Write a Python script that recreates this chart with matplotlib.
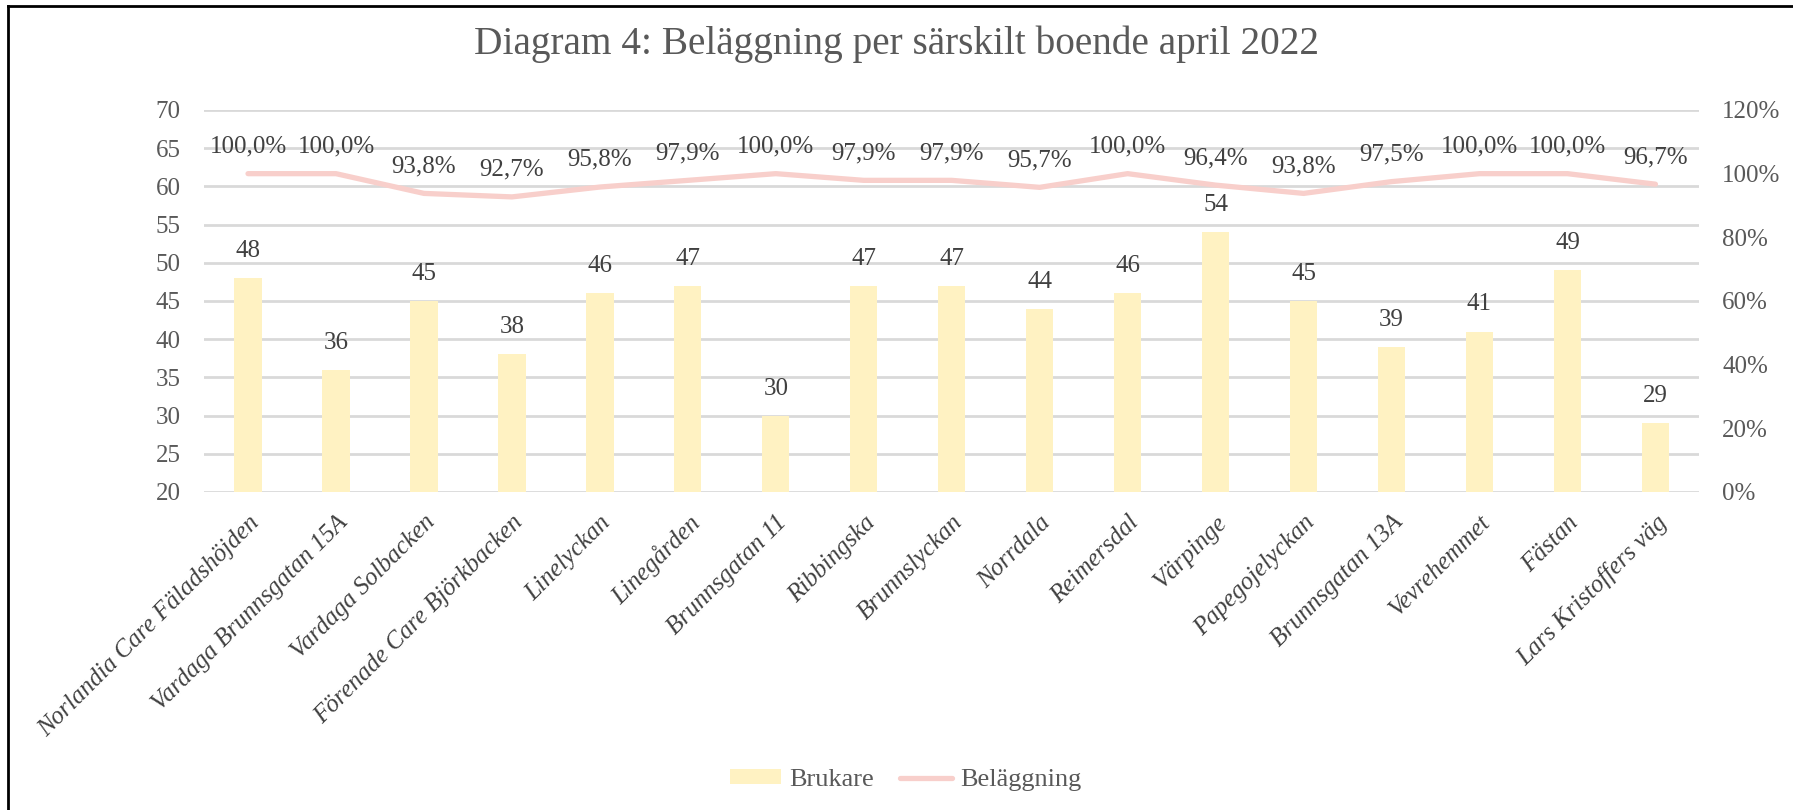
import numpy as np
import matplotlib.pyplot as plt
from matplotlib.patches import Patch
from matplotlib.lines import Line2D

plt.rcParams['font.family'] = ['Liberation Serif', 'DejaVu Serif']

# data
boenden = [
    "Norlandia Care Fäladshöjden", "Vardaga Brunnsgatan 15A", "Vardaga Solbacken",
    "Förenade Care Björkbacken", "Linelyckan", "Linegården", "Brunnsgatan 11",
    "Ribbingska", "Brunnslyckan", "Norrdala", "Reimersdal", "Värpinge",
    "Papegojelyckan", "Brunnsgatan 13A", "Vevrehemmet", "Fästan", "Lars Kristoffers väg",
]
brukare = [48, 36, 45, 38, 46, 47, 30, 47, 47, 44, 46, 54, 45, 39, 41, 49, 29]
belaggning = [100.0, 100.0, 93.8, 92.7, 95.8, 97.9, 100.0, 97.9, 97.9, 95.7,
              100.0, 96.4, 93.8, 97.5, 100.0, 100.0, 96.7]

left_ticks = list(range(20, 71, 5))
right_ticks = [0, 0.2, 0.4, 0.6, 0.8, 1.0, 1.2]

BAR_COL = "#FFF2C2"
LINE_COL = "#F8CFCB"
TXT = "#404040"
GRID = "#D9D9D9"

fig = plt.figure(figsize=(17.93, 8.10), dpi=100)
ax = fig.add_axes([0.1138, 0.3926, 0.834, 0.4716])
ax2 = ax.twinx()

x = np.arange(len(boenden))
ax.bar(x, brukare, width=0.31, color=BAR_COL, zorder=2)
ax.set_ylim(20, 70)
ax.set_xlim(-0.5, len(boenden) - 0.5)
ax.set_yticks(left_ticks)
ax.yaxis.grid(True, color=GRID, linewidth=2, zorder=0)
ax.set_axisbelow(True)

for xi, v in zip(x, brukare):
    ax.annotate(str(v), (xi, v), xytext=(0, 19.5), textcoords='offset points',
                ha='center', va='center', fontsize=18, color=TXT)

fr = [b / 100 for b in belaggning]
ax2.plot(x, fr, color=LINE_COL, linewidth=3.8, solid_capstyle='round', zorder=3)
ax2.set_ylim(0, 1.2)
ax2.set_yticks(right_ticks)
ax2.set_yticklabels([f"{int(round(t * 100))}%" for t in right_ticks])
for xi, v in zip(x, belaggning):
    ax2.annotate(f"{v:.1f}%".replace('.', ','), (xi, v / 100), xytext=(0, 19.5),
                 textcoords='offset points', ha='center', va='center',
                 fontsize=18, color=TXT)

ax.set_xticks(x)
ax.set_xticklabels(boenden, rotation=45, ha='right', rotation_mode='anchor',
                   fontstyle='italic', fontsize=18, color=TXT)

for a in (ax, ax2):
    for s in a.spines.values():
        s.set_visible(False)
    a.tick_params(length=0, labelsize=18, labelcolor="#595959")
ax.tick_params(axis='y', pad=17)
ax2.tick_params(axis='y', pad=16.5)
ax.tick_params(axis='x', pad=14, labelcolor=TXT)

fig.text(0.5, 0.945, "Diagram 4: Beläggning per särskilt boende april 2022",
         ha='center', va='center', fontsize=28.3, color="#595959")

handles = [Patch(facecolor=BAR_COL, edgecolor='none'),
           Line2D([0], [0], color=LINE_COL, linewidth=3.8, solid_capstyle='round')]
fig.legend(handles, ["Brukare", "Beläggning"], loc='center', bbox_to_anchor=(0.505, 0.037),
           ncol=2, frameon=False, fontsize=19, labelcolor="#595959",
           handlelength=1.95, handleheight=0.5, columnspacing=1.0, handletextpad=0.3)

# outer frame (top and left edges)
fig.add_artist(Line2D([0.0045, 0.0045], [0, 0.9926], color='black', linewidth=2,
                      transform=fig.transFigure))
fig.add_artist(Line2D([0.0045, 1], [0.9926, 0.9926], color='black', linewidth=2,
                      transform=fig.transFigure))

fig.savefig("out.png", dpi=100, facecolor='white')
